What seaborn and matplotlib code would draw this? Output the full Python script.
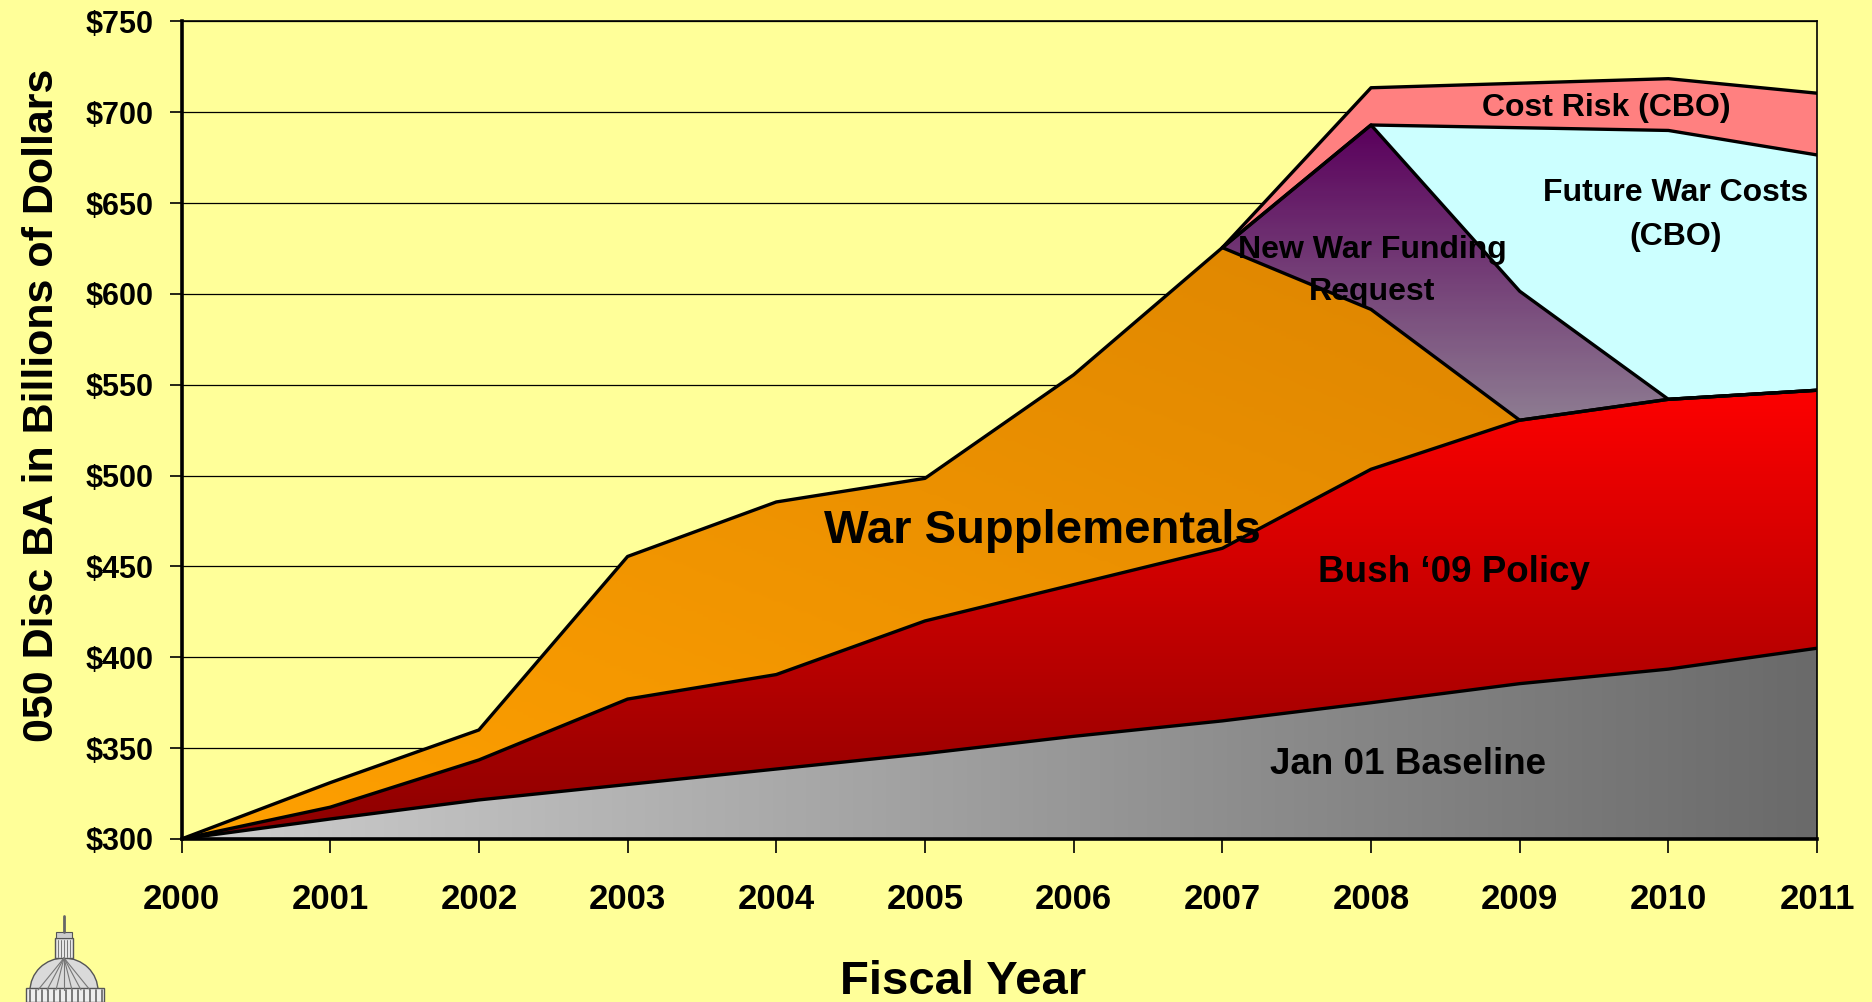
import numpy as np
import matplotlib
matplotlib.use('Agg')
import matplotlib.pyplot as plt
from matplotlib.colors import LinearSegmentedColormap
from matplotlib import patches
import seaborn as sns

# values (billions of dollars, top edge of each layer)
years = [2000, 2001, 2002, 2003, 2004, 2005, 2006, 2007, 2008, 2009, 2010, 2011]
jan01_baseline = [300, 311, 321.5, 330, 338.5, 347, 356.5, 365, 375, 385.5, 393.5, 405]
bush_09_policy = [300, 317.5, 343.5, 377, 390.5, 420, 440, 460, 503.5, 530.5, 542, 547]
war_supplementals = [300, 331, 360, 455.5, 485.5, 498.5, 555.5, 625.5, 591.5, 530.5, 542, 547]

late_years = [2007, 2008, 2009, 2010, 2011]
new_war_request = [625.5, 693, 601.5, 542, 547]
future_war_costs = [625.5, 693, 691.5, 690, 676.5]
cost_risk = [625.5, 713.5, 716, 718.5, 710.5]

ytick_values = [300, 350, 400, 450, 500, 550, 600, 650, 700, 750]
ytick_labels = ['$300', '$350', '$400', '$450', '$500', '$550', '$600', '$650', '$700', '$750']

BG = '#FFFF99'

sns.set_style('white', rc={'axes.facecolor': BG, 'figure.facecolor': BG,
                           'axes.labelcolor': 'black', 'text.color': 'black'})
plt.rcParams['font.family'] = ['Liberation Sans', 'DejaVu Sans']
plt.rcParams['font.weight'] = 'bold'

fig = plt.figure(figsize=(18.72, 10.02), dpi=100)
ax = fig.add_axes([0.09696, 0.1627, 0.8737, 0.8159])

EXT = [2000, 2011, 300, 750]


def gradient_fill(x, lower, upper, cmap, grad):
    poly = ax.fill_between(x, lower, upper, facecolor='none', edgecolor='none')
    im = ax.imshow(grad, extent=EXT, origin='lower', aspect='auto', cmap=cmap,
                   vmin=0, vmax=1, interpolation='bilinear', zorder=1)
    im.set_clip_path(poly.get_paths()[0], transform=ax.transData)


gx, gy = np.meshgrid(np.linspace(0, 1, 300), np.linspace(300, 750, 300))

# Jan 01 baseline - grey, light to dark left to right
gray_cmap = LinearSegmentedColormap.from_list('g', ['#CECECE', '#6A6A6A'])
gradient_fill(years, [300] * len(years), jan01_baseline, gray_cmap, gx)

# Bush '09 policy - red, dark at bottom
red_cmap = LinearSegmentedColormap.from_list('r', [(0, '#8C0000'), (250 / 450, '#FF0000'), (1, '#FF0000')])
gradient_fill(years, jan01_baseline, bush_09_policy, red_cmap, (gy - 300) / 450)

# war supplementals - orange, diagonal
orange_cmap = LinearSegmentedColormap.from_list('o', ['#FFA000', '#D98200'])
gradient_fill(years, bush_09_policy, war_supplementals, orange_cmap,
              np.clip((gx + (gy - 300) / 350) / 2, 0, 1))

# new war funding request - purple, dark at top
purple_cmap = LinearSegmentedColormap.from_list('p', [(0, '#8E7D92'), (230 / 450, '#8E7D92'),
                                                      (393 / 450, '#5A005C'), (1, '#5A005C')])
gradient_fill(late_years, war_supplementals[7:], new_war_request, purple_cmap, (gy - 300) / 450)

ax.fill_between(late_years, new_war_request, future_war_costs, facecolor='#CCFFFF', edgecolor='none', zorder=1)
ax.fill_between(late_years, future_war_costs, cost_risk, facecolor='#FF8080', edgecolor='none', zorder=1)

# outlines
for x, y in [(years, jan01_baseline), (years, bush_09_policy), (years, war_supplementals),
             (late_years, new_war_request), (late_years, future_war_costs), (late_years, cost_risk)]:
    sns.lineplot(x=x, y=y, color='black', lw=2.4, ax=ax, zorder=3, legend=False)

ax.set_xlim(2000, 2011)
ax.set_ylim(300, 750)
ax.set_xticks(years)
ax.set_xticklabels([str(y) for y in years])
ax.set_yticks(ytick_values)
ax.set_yticklabels(ytick_labels)
ax.yaxis.grid(True, color='black', lw=0.9)
ax.xaxis.grid(False)
ax.set_axisbelow(True)

ax.tick_params(axis='x', bottom=True, direction='out', length=10, width=1.2, pad=22,
               labelsize=25, colors='black')
ax.tick_params(axis='y', left=True, direction='out', length=9, width=1.2, pad=11,
               labelsize=22, colors='black')
for lab in ax.get_xticklabels() + ax.get_yticklabels():
    lab.set_fontweight('bold')

for side in ['left', 'bottom']:
    ax.spines[side].set_linewidth(2.6)
    ax.spines[side].set_color('black')
for side in ['top', 'right']:
    ax.spines[side].set_linewidth(1.2)
    ax.spines[side].set_color('black')
    ax.spines[side].set_visible(True)

ax.set_ylabel('050 Disc BA in Billions of Dollars', fontsize=31, fontweight='bold', color='black')
ax.yaxis.set_label_coords(-0.0855, 0.531)
ax.yaxis.label.set_va('center')
ax.set_xlabel('Fiscal Year', fontsize=34, fontweight='bold', color='black')
ax.xaxis.set_label_coords(0.478, -0.1755)
ax.xaxis.label.set_va('center')

# layer labels
lab_kw = dict(ha='center', va='center', fontweight='bold', color='black', zorder=5)
ax.text(2005.79, 469.5, 'War Supplementals', fontsize=34, **lab_kw)
ax.text(2008.56, 446.5, 'Bush \u201809 Policy', fontsize=26.5, **lab_kw)
ax.text(2008.25, 341.2, 'Jan 01 Baseline', fontsize=26.5, **lab_kw)
ax.text(2009.58, 702.6, 'Cost Risk (CBO)', fontsize=23, **lab_kw)
ax.text(2010.05, 643.5, 'Future War Costs\n(CBO)', fontsize=23, linespacing=1.6, **lab_kw)
ax.text(2008.01, 612.5, 'New War Funding\nRequest', fontsize=23, linespacing=1.5, **lab_kw)


# small capitol dome in the corner
def px(x, y):
    return (x / 1872, 1 - y / 1002)


ft = fig.transFigure
dome = patches.Ellipse(px(64, 991), 68 / 1872, 66 / 1002, transform=ft,
                       facecolor='#DADADA', edgecolor='#555555', lw=1.0)
fig.patches.append(dome)
for dx in [-26, -17, -8, 0, 8, 17, 26]:
    fig.lines.append(plt.Line2D([px(64, 958)[0], px(64 + dx, 990)[0]],
                                [px(64, 958)[1], px(64 + dx, 990)[1]],
                                transform=ft, color='#777777', lw=0.8))
drum = patches.Rectangle(px(55, 958), 18 / 1872, 20 / 1002, transform=ft,
                         facecolor='#E6E6E6', edgecolor='#555555', lw=1.0)
fig.patches.append(drum)
for xx in [58, 61, 64, 67, 70]:
    fig.lines.append(plt.Line2D([xx / 1872] * 2, [px(0, 957)[1], px(0, 940)[1]],
                                transform=ft, color='#777777', lw=0.7))
cap = patches.Rectangle(px(56, 938), 16 / 1872, 6 / 1002, transform=ft,
                        facecolor='#CCCCCC', edgecolor='#555555', lw=0.8)
fig.patches.append(cap)
fig.lines.append(plt.Line2D([64 / 1872] * 2, [px(0, 932)[1], px(0, 916)[1]],
                            transform=ft, color='#666666', lw=2))
band = patches.Rectangle(px(26, 1002), 78 / 1872, 14 / 1002, transform=ft,
                         facecolor='#EEEEEE', edgecolor='#555555', lw=1.0)
fig.patches.append(band)
for xx in range(30, 104, 6):
    fig.lines.append(plt.Line2D([xx / 1872] * 2, [px(0, 1002)[1], px(0, 990)[1]],
                                transform=ft, color='#666666', lw=1.2))

fig.savefig('out.png', dpi=100, facecolor=BG)
